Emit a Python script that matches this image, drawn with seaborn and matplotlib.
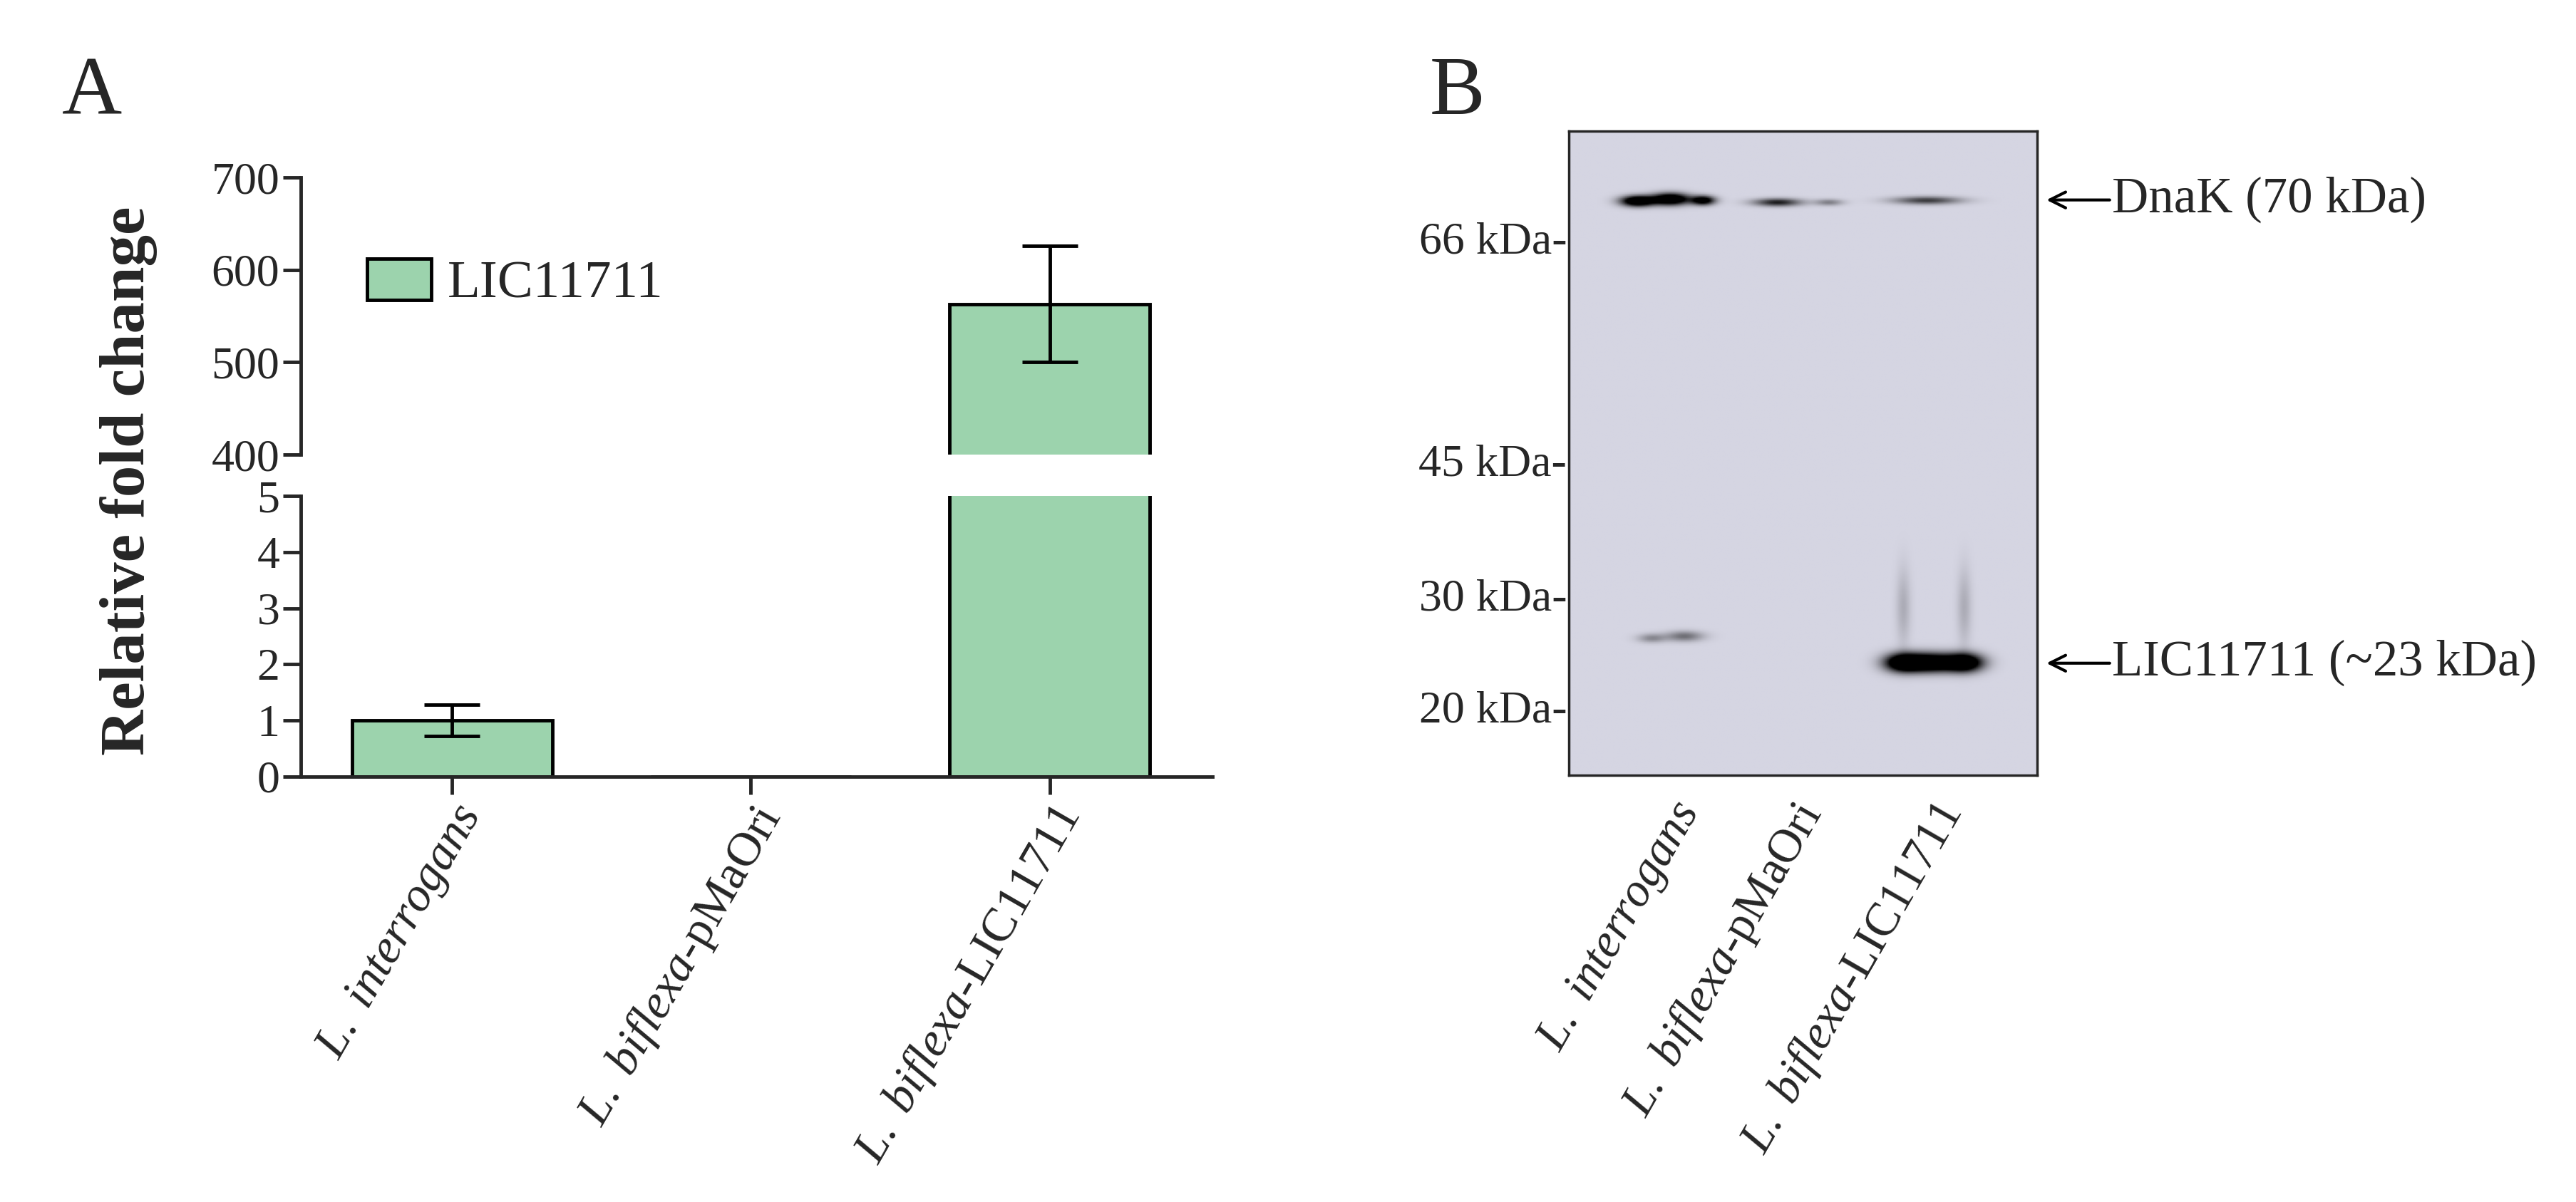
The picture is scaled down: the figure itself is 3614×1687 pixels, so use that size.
import numpy as np
import pandas as pd
import matplotlib
matplotlib.use('Agg')
import matplotlib.pyplot as plt
import seaborn as sns
from matplotlib.patches import Patch

sns.set_style('ticks')
plt.rcParams['font.family'] = ['Liberation Serif', 'DejaVu Serif']
plt.rcParams['mathtext.fontset'] = 'custom'
plt.rcParams['mathtext.rm'] = 'Liberation Serif'
plt.rcParams['mathtext.it'] = 'Liberation Serif:italic'

# Datos panel A
cepas = ['L. interrogans', 'L. biflexa-pMaOri', 'L. biflexa-LIC11711']
etiquetas = [r'$\it{L.\ interrogans}$', r'$\it{L.\ biflexa}$-pMaOri', r'$\it{L.\ biflexa}$-LIC11711']
fold_change = [1.0, 0.0, 563.0]
error = [0.28, 0.0, 63.0]

# Datos panel B (western blot)
marcadores_kda = ['66 kDa-', '45 kDa-', '30 kDa-', '20 kDa-']
marcadores_pos = [0.166, 0.510, 0.719, 0.893]
carriles_x = [0.216, 0.475, 0.774]
# (carril, desplazamiento x, posicion vertical, ancho, alto, intensidad)
bandas = [
    (0, -0.07, 0.109, 0.035, 0.008, 1.00), (0, 0.0, 0.106, 0.04, 0.009, 1.0),
    (0, 0.07, 0.108, 0.025, 0.007, 0.8),
    (1, -0.03, 0.111, 0.05, 0.006, 0.55), (1, 0.08, 0.111, 0.03, 0.005, 0.25),
    (2, -0.01, 0.108, 0.07, 0.006, 0.45),
    (0, -0.04, 0.788, 0.03, 0.007, 0.22), (0, 0.03, 0.785, 0.04, 0.008, 0.3),
    (2, -0.06, 0.826, 0.04, 0.014, 1.00), (2, 0.0, 0.826, 0.05, 0.014, 1.00),
    (2, 0.07, 0.826, 0.04, 0.014, 1.00),
    (2, -0.06, 0.74, 0.015, 0.06, 0.12), (2, 0.07, 0.74, 0.015, 0.06, 0.12),
]

verde = '#9cd3ad'
fs = 46

fig = plt.figure(figsize=(36.14, 16.87), dpi=100)
ax_top = fig.add_axes([0.1168, 0.6218, 0.354, 0.2306])
ax_bot = fig.add_axes([0.1168, 0.3539, 0.354, 0.2335])

df = pd.DataFrame({'cepa': cepas, 'valor': fold_change})
for ax in (ax_top, ax_bot):
    sns.barplot(data=df, x='cepa', y='valor', color=verde, edgecolor='black',
                linewidth=3.5, width=0.67, saturation=1, ax=ax)
    for i, (v, e) in enumerate(zip(fold_change, error)):
        if e > 0:
            ax.errorbar(i, v, yerr=e, color='black', capsize=28, elinewidth=3.5,
                        capthick=3.5, clip_on=True)
    ax.set_xlim(-0.506, 2.546)
    ax.set_xlabel('')
    ax.set_ylabel('')
    ax.tick_params(axis='both', labelsize=fs, width=3.5, length=18)
    for s in ('top', 'right'):
        ax.spines[s].set_visible(False)
    for s in ('left', 'bottom'):
        ax.spines[s].set_linewidth(3.5)

ax_top.set_ylim(400, 700)
ax_top.set_yticks([400, 500, 600, 700])
ax_top.spines['bottom'].set_visible(False)
ax_top.tick_params(axis='x', bottom=False, labelbottom=False)
ax_bot.set_ylim(0, 5)
ax_bot.set_yticks(range(6))
ax_bot.set_xticks(range(3))
ax_bot.set_xticklabels(etiquetas, rotation=60, ha='right', rotation_mode='anchor', fontsize=49)

ax_top.legend(handles=[Patch(facecolor=verde, edgecolor='black', linewidth=3.5, label='LIC11711')],
              loc='upper left', bbox_to_anchor=(0.02, 0.88), frameon=False, fontsize=54,
              handlelength=1.2, handleheight=0.8, handletextpad=0.3)

fig.text(0.05, 0.6, 'Relative fold change', rotation=90, fontsize=64, fontweight='bold',
         ha='center', va='center')
fig.text(0.024, 0.905, 'A', fontsize=84)
fig.text(0.555, 0.905, 'B', fontsize=84)

# Panel B
ax_b = fig.add_axes([0.609, 0.355, 0.1818, 0.536])
xs = np.linspace(0, 1, 400)
ys = np.linspace(0, 1, 600)
X, Y = np.meshgrid(xs, ys)
img = np.zeros_like(X)
for carril, dx, yb, wb, hb, inten in bandas:
    img += inten * np.exp(-((X - carriles_x[carril] - dx) / wb) ** 2 - ((Y - yb) / hb) ** 2)
img = np.clip(img * 1.6, 0, 1)
cmap = matplotlib.colors.LinearSegmentedColormap.from_list('blot', ['#d5d5e2', '#000000'])
ax_b.imshow(img, cmap=cmap, vmin=0, vmax=1, extent=(0, 1, 1, 0), aspect='auto')
ax_b.set_xlim(0, 1)
ax_b.set_ylim(1, 0)
ax_b.set_yticks(marcadores_pos)
ax_b.set_yticklabels(marcadores_kda, fontsize=46)
ax_b.tick_params(axis='y', length=0, pad=2)
ax_b.set_xticks(carriles_x)
ax_b.set_xticklabels(etiquetas, rotation=60, ha='right', rotation_mode='anchor', fontsize=48)
ax_b.tick_params(axis='x', length=0, pad=20)
for s in ax_b.spines.values():
    s.set_linewidth(2.5)

for texto, yb in [('DnaK (70 kDa)', 0.107), ('LIC11711 (~23 kDa)', 0.826)]:
    ax_b.annotate(texto, xy=(1.02, yb), xytext=(1.16, yb),
                  xycoords=('axes fraction', 'data'), textcoords=('axes fraction', 'data'),
                  va='center', fontsize=51,
                  arrowprops=dict(arrowstyle='->', lw=3, color='black', mutation_scale=40,
                                  shrinkA=0, shrinkB=0))

fig.savefig('out.png', dpi=100)
